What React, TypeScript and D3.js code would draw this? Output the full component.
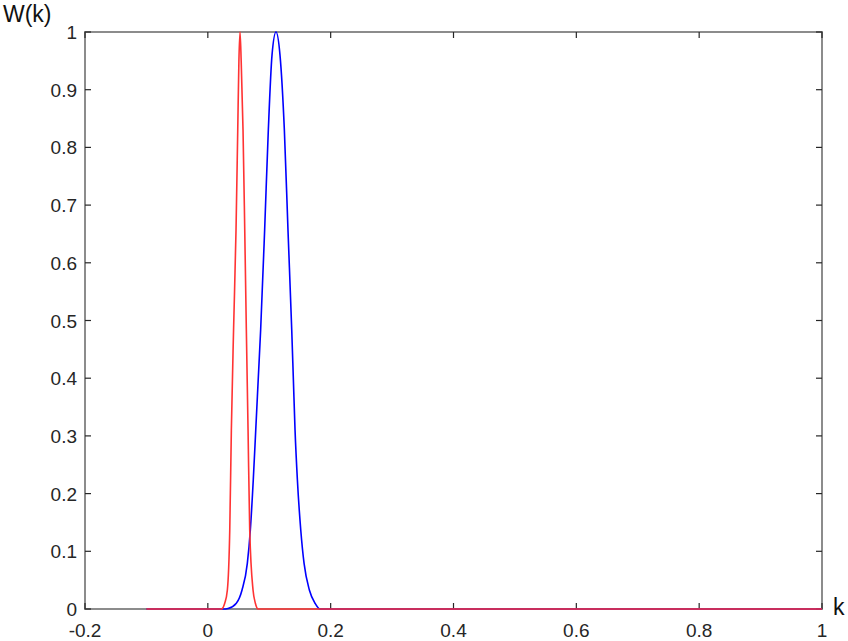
import React from "react";
import * as d3 from "d3";

const xTicks = [-0.2, 0, 0.2, 0.4, 0.6, 0.8, 1];
const xTickLabels = ["-0.2", "0", "0.2", "0.4", "0.6", "0.8", "1"];
const yTicks = [0, 0.1, 0.2, 0.3, 0.4, 0.5, 0.6, 0.7, 0.8, 0.9, 1];
const yTickLabels = ["0", "0.1", "0.2", "0.3", "0.4", "0.5", "0.6", "0.7", "0.8", "0.9", "1"];

const redK = [-0.1, 0.022, 0.0275, 0.0318, 0.0357, 0.0383, 0.0419, 0.0459, 0.0487, 0.0506, 0.0524, 0.0543, 0.0573, 0.0601, 0.0627, 0.0655, 0.0682, 0.0736, 0.0774, 0.0818, 1];
const redW = [0, 0, 0.01, 0.033, 0.137, 0.31, 0.484, 0.657, 0.83, 0.95, 1, 0.95, 0.83, 0.657, 0.484, 0.31, 0.137, 0.033, 0.01, 0, 0];

const blueK = [-0.1, 0.025, 0.0329, 0.0464, 0.0557, 0.0643, 0.0692, 0.074, 0.078, 0.082, 0.086, 0.0925, 0.0985, 0.1045, 0.111, 0.1175, 0.1246, 0.1305, 0.1366, 0.1393, 0.142, 0.1458, 0.1513, 0.1567, 0.1653, 0.1746, 0.1827, 1];
const blueW = [0, 0, 0.001, 0.01, 0.033, 0.079, 0.137, 0.224, 0.31, 0.397, 0.484, 0.657, 0.83, 0.96, 1, 0.96, 0.83, 0.657, 0.484, 0.397, 0.31, 0.224, 0.137, 0.079, 0.033, 0.01, 0, 0];

const W = 848;
const H = 641;
const left = 85;
const right = 822;
const top = 32;
const bottom = 609;
const font = "Arial, 'Liberation Sans', Helvetica, sans-serif";

export default function App() {
  const x = d3.scaleLinear().domain([-0.2, 1]).range([left, right]);
  const y = d3.scaleLinear().domain([0, 1]).range([bottom, top]);
  const line = d3
    .line<[number, number]>()
    .x((d) => x(d[0]))
    .y((d) => y(d[1]))
    .curve(d3.curveMonotoneX);
  const red = redK.map((k, i) => [k, redW[i]] as [number, number]);
  const blue = blueK.map((k, i) => [k, blueW[i]] as [number, number]);
  const axisColor = "#8c8c8c";
  const tickColor = "#262626";
  const tickLen = 6;

  return (
    <div style={{ position: "absolute", left: 0, top: 0, width: W, height: H, background: "#fff" }}>
      <svg width={W} height={H} style={{ display: "block" }}>
        <rect x={0} y={0} width={W} height={H} fill="#fff" />
        <rect x={left} y={top} width={right - left} height={bottom - top} fill="none" stroke={axisColor} strokeWidth={2} />
        {xTicks.map((t) => (
          <g key={"xt" + t}>
            <line x1={x(t)} x2={x(t)} y1={bottom} y2={bottom - tickLen} stroke={tickColor} strokeWidth={1.2} />
            <line x1={x(t)} x2={x(t)} y1={top} y2={top + tickLen} stroke={tickColor} strokeWidth={1.2} />
          </g>
        ))}
        {yTicks.map((t) => (
          <g key={"yt" + t}>
            <line x1={left} x2={left + tickLen} y1={y(t)} y2={y(t)} stroke={tickColor} strokeWidth={1.2} />
            <line x1={right} x2={right - tickLen} y1={y(t)} y2={y(t)} stroke={tickColor} strokeWidth={1.2} />
          </g>
        ))}
        <path d={line(blue) || ""} fill="none" stroke="#0000ff" strokeWidth={1.6} />
        <path d={line(red) || ""} fill="none" stroke="#ff3333" strokeWidth={1.6} />
        {xTicks.map((t, i) => (
          <text key={"xl" + t} x={x(t)} y={637} textAnchor="middle" fontFamily={font} fontSize={19} fill={tickColor}>
            {xTickLabels[i]}
          </text>
        ))}
        {yTicks.map((t, i) => (
          <text key={"yl" + t} x={77} y={y(t) + 7} textAnchor="end" fontFamily={font} fontSize={19} fill={tickColor}>
            {yTickLabels[i]}
          </text>
        ))}
        <text x={3} y={22} fontFamily={font} fontSize={23} fill="#111">W(k)</text>
        <text x={833} y={615} fontFamily={font} fontSize={23} fill="#111">k</text>
      </svg>
    </div>
  );
}
